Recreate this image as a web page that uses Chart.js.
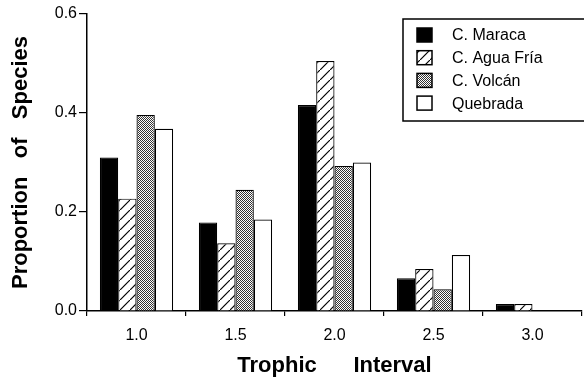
<!DOCTYPE html>
<html>
<head>
<meta charset="utf-8">
<script src="https://cdn.jsdelivr.net/npm/chart.js@4.4.0/dist/chart.umd.min.js"></script>
<style>
  html, body { margin: 0; padding: 0; background: #fff; }
  #wrap { width: 584px; height: 379px; }
</style>
</head>
<body>
<div id="wrap"><canvas id="mycanvas" width="584" height="379"></canvas></div>
<script>
var intervals = ['1.0', '1.5', '2.0', '2.5', '3.0'];
var maraca    = [0.310, 0.179, 0.416, 0.066, 0.014];
var aguaFria  = [0.227, 0.137, 0.505, 0.085, 0.014];
var volcan    = [0.396, 0.245, 0.293, 0.044, 0];
var quebrada  = [0.368, 0.185, 0.300, 0.113, 0];
var yTicks    = [0.0, 0.2, 0.4, 0.6];

// fill patterns
function hatchPattern() {
  var c = document.createElement('canvas');
  c.width = 10; c.height = 10;
  var g = c.getContext('2d');
  g.fillStyle = '#fff';
  g.fillRect(0, 0, 10, 10);
  g.strokeStyle = '#000';
  g.lineWidth = 1.2;
  g.beginPath();
  g.moveTo(-1, 11); g.lineTo(11, -1);
  g.stroke();
  return g.createPattern(c, 'repeat');
}
function dotPattern() {
  var c = document.createElement('canvas');
  c.width = 2; c.height = 2;
  var g = c.getContext('2d');
  g.fillStyle = '#fff';
  g.fillRect(0, 0, 2, 2);
  g.fillStyle = '#333';
  g.fillRect(0, 0, 1, 1);
  g.fillRect(1, 1, 1, 1);
  return g.createPattern(c, 'repeat');
}

var fills = ['#000', hatchPattern(), dotPattern(), '#fff'];

// legend drawn in a box at the upper right, open on the right edge
var boxLegend = {
  id: 'boxLegend',
  afterDraw: function(chart) {
    var ctx = chart.ctx;
    var x0 = 403, y0 = 19, y1 = 121, x1 = 584;
    ctx.save();
    ctx.fillStyle = '#fff';
    ctx.fillRect(x0, y0, x1 - x0, y1 - y0);
    ctx.strokeStyle = '#000';
    ctx.lineWidth = 1.5;
    ctx.beginPath();
    ctx.moveTo(x1, y0); ctx.lineTo(x0, y0); ctx.lineTo(x0, y1); ctx.lineTo(x1, y1);
    ctx.stroke();
    ctx.font = '16px "Liberation Sans", Arial, sans-serif';
    ctx.textBaseline = 'middle';
    chart.data.datasets.forEach(function(ds, i) {
      var y = 35 + i * 22.7;
      ctx.fillStyle = ds.backgroundColor;
      ctx.fillRect(417, y - 7, 15, 14);
      ctx.lineWidth = 1.5;
      ctx.strokeRect(417, y - 7, 15, 14);
      ctx.fillStyle = '#000';
      ctx.fillText(ds.label, 452, y + 1);
    });
    ctx.restore();
  }
};

var chartdata = {
  labels: intervals,
  datasets: [
    { label: 'C. Maraca',    data: maraca,   backgroundColor: fills[0] },
    { label: 'C. Agua Fría', data: aguaFria, backgroundColor: fills[1] },
    { label: 'C. Volcán',    data: volcan,   backgroundColor: fills[2] },
    { label: 'Quebrada',     data: quebrada, backgroundColor: fills[3] }
  ]
};
chartdata.datasets.forEach(function(ds) {
  ds.borderColor = '#000';
  ds.borderWidth = 1.2;
  ds.borderSkipped = 'bottom';
});

var tickFont = { family: '"Liberation Sans", Arial, sans-serif', size: 16 };
var titleFont = { family: '"Liberation Sans", Arial, sans-serif', size: 22, weight: 'bold' };

var ctx = document.getElementById('mycanvas');
var barGraph = new Chart(ctx, {
  type: 'bar',
  data: chartdata,
  plugins: [boxLegend],
  options: {
    responsive: false,
    animation: false,
    devicePixelRatio: 1,
    layout: { padding: { top: 14, right: 2, left: 0, bottom: 0 } },
    categoryPercentage: 0.74,
    barPercentage: 1.0,
    plugins: { legend: { display: false }, tooltip: { enabled: false } },
    scales: {
      x: {
        grid: { drawOnChartArea: false, offset: true, color: '#000', tickLength: 5, lineWidth: 1.2 },
        border: { color: '#000', width: 1.5 },
        ticks: { color: '#000', font: tickFont, padding: 10 },
        title: { display: true, text: 'Trophic      Interval', color: '#000', font: titleFont, padding: { top: 0, bottom: 0 } },
        afterFit: function(scale) { scale.height = 68; }
      },
      y: {
        min: 0,
        max: 0.6,
        afterBuildTicks: function(scale) {
          scale.ticks = yTicks.map(function(v) { return { value: v }; });
        },
        grid: { drawOnChartArea: false, color: '#000', tickLength: 8, lineWidth: 1.2 },
        border: { color: '#000', width: 1.5 },
        ticks: { color: '#000', font: tickFont, padding: 2,
          callback: function(v) { return Number(v).toFixed(1); } },
        title: { display: true, text: 'Proportion   of   Species', color: '#000', font: titleFont, padding: { top: 8, bottom: 0 } },
        afterFit: function(scale) { scale.width = 87; }
      }
    }
  }
});
</script>
</body>
</html>
